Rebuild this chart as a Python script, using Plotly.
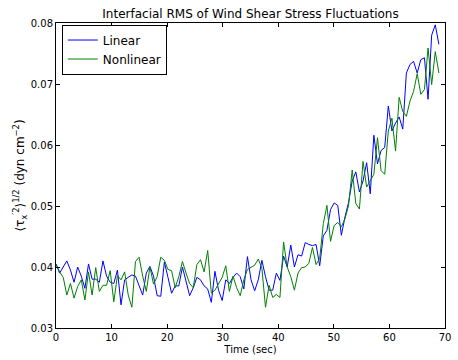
import plotly.graph_objects as go

DT = 0.65  # sample spacing in seconds

linear = [
    0.0405, 0.039, 0.040, 0.041, 0.0395, 0.0375, 0.040, 0.0385, 0.0365, 0.0405,
    0.038, 0.038, 0.0375, 0.041, 0.0385, 0.0375, 0.0373, 0.0395, 0.0338, 0.0379,
    0.0383, 0.0387, 0.0385, 0.037, 0.0354, 0.039, 0.0401, 0.0385, 0.0353, 0.0352,
    0.0408, 0.0383, 0.0357, 0.0369, 0.0369, 0.040, 0.0376, 0.0353, 0.0366, 0.0383,
    0.0379, 0.0369, 0.0364, 0.0342, 0.0393, 0.0362, 0.0345, 0.0379, 0.0373, 0.0383,
    0.039, 0.0384, 0.0364, 0.0417, 0.0379, 0.0361, 0.0379, 0.0411, 0.0384, 0.0362,
    0.0362, 0.039, 0.0378, 0.0418, 0.040, 0.0436, 0.040, 0.042, 0.0418, 0.044,
    0.0437, 0.0435, 0.0437, 0.0402, 0.0451, 0.046, 0.0494, 0.0505, 0.0501, 0.0452,
    0.0482, 0.0506, 0.0541, 0.0556, 0.0523, 0.0541, 0.0571, 0.052, 0.0616, 0.0569,
    0.0591, 0.0596, 0.0664, 0.0623, 0.0636, 0.0646, 0.0626, 0.0718, 0.0732, 0.0737,
    0.0718, 0.074, 0.0743, 0.0675, 0.078, 0.0797, 0.0765,
]

nonlinear = [
    0.0405, 0.0392, 0.0383, 0.0354, 0.0373, 0.0349, 0.0368, 0.0379, 0.0346, 0.0392,
    0.0354, 0.0399, 0.036, 0.037, 0.037, 0.0394, 0.0343, 0.0386, 0.0379, 0.0392,
    0.0354, 0.0334, 0.0409, 0.0416, 0.0385, 0.036, 0.040, 0.0372, 0.0384, 0.0416,
    0.0411, 0.0396, 0.0394, 0.0366, 0.0384, 0.0409, 0.039, 0.0373, 0.0366, 0.0404,
    0.0412, 0.0392, 0.0427, 0.0357, 0.0362, 0.0373, 0.0383, 0.0402, 0.036, 0.0385,
    0.0366, 0.0353, 0.0379, 0.0396, 0.040, 0.0403, 0.0413, 0.0398, 0.0334, 0.037,
    0.035, 0.0355, 0.035, 0.0441, 0.040, 0.0384, 0.0362, 0.039, 0.0399, 0.040,
    0.0406, 0.0432, 0.0404, 0.0414, 0.0471, 0.0501, 0.0442, 0.0468, 0.0473, 0.0466,
    0.0479, 0.0501, 0.0559, 0.0504, 0.0495, 0.0573, 0.0531, 0.0541, 0.0552, 0.0612,
    0.0558, 0.0552, 0.0623, 0.0644, 0.059, 0.0678, 0.0655, 0.0647, 0.0672, 0.0688,
    0.0717, 0.0683, 0.0691, 0.0759, 0.0699, 0.0753, 0.0718,
]

time = [i * DT for i in range(len(linear))]

x_ticks = [0, 10, 20, 30, 40, 50, 60, 70]
y_ticks = [0.03, 0.04, 0.05, 0.06, 0.07, 0.08]
y_tick_labels = ["0.03", "0.04", "0.05", "0.06", "0.07", "0.08"]

FONT = "DejaVu Sans"

fig = go.Figure()
fig.add_trace(go.Scatter(x=time, y=linear, mode="lines", name="Linear",
                         line=dict(color="#0000ff", width=1)))
fig.add_trace(go.Scatter(x=time, y=nonlinear, mode="lines", name="Nonlinear",
                         line=dict(color="#008000", width=1)))

axis_common = dict(showgrid=False, zeroline=False, showline=True, linecolor="black",
                   linewidth=1, mirror="ticks", ticks="inside", ticklen=4,
                   tickcolor="black", tickfont=dict(family=FONT, size=10, color="black"))

fig.update_layout(
    width=458, height=360,
    margin=dict(l=56, r=7, t=23, b=30),
    paper_bgcolor="white", plot_bgcolor="white",
    font=dict(family=FONT, color="black"),
    title=dict(text="Interfacial RMS of Wind Shear Stress Fluctuations",
               x=0.5, xanchor="center", xref="paper", y=1, yref="paper",
               yanchor="bottom", pad=dict(b=5),
               font=dict(family=FONT, size=12, color="black")),
    xaxis=dict(range=[0, 70], tickvals=x_ticks, ticktext=[str(v) for v in x_ticks],
               title=dict(text="Time (sec)", font=dict(family=FONT, size=10), standoff=3),
               **axis_common),
    yaxis=dict(range=[0.03, 0.08], tickvals=y_ticks, ticktext=y_tick_labels,
               title=dict(text="⟨τ<sub>x</sub><sup>′2</sup>⟩<sup>1/2</sup> (dyn cm<sup>−2</sup>)",
                          font=dict(family=FONT, size=12), standoff=3),
               **axis_common),
    legend=dict(x=0.015, y=0.995, xanchor="left", yanchor="top",
                bordercolor="black", borderwidth=1, bgcolor="white",
                font=dict(family=FONT, size=12, color="black"),
                tracegroupgap=0, itemwidth=30),
    showlegend=True,
)

fig.write_html("out.html")
